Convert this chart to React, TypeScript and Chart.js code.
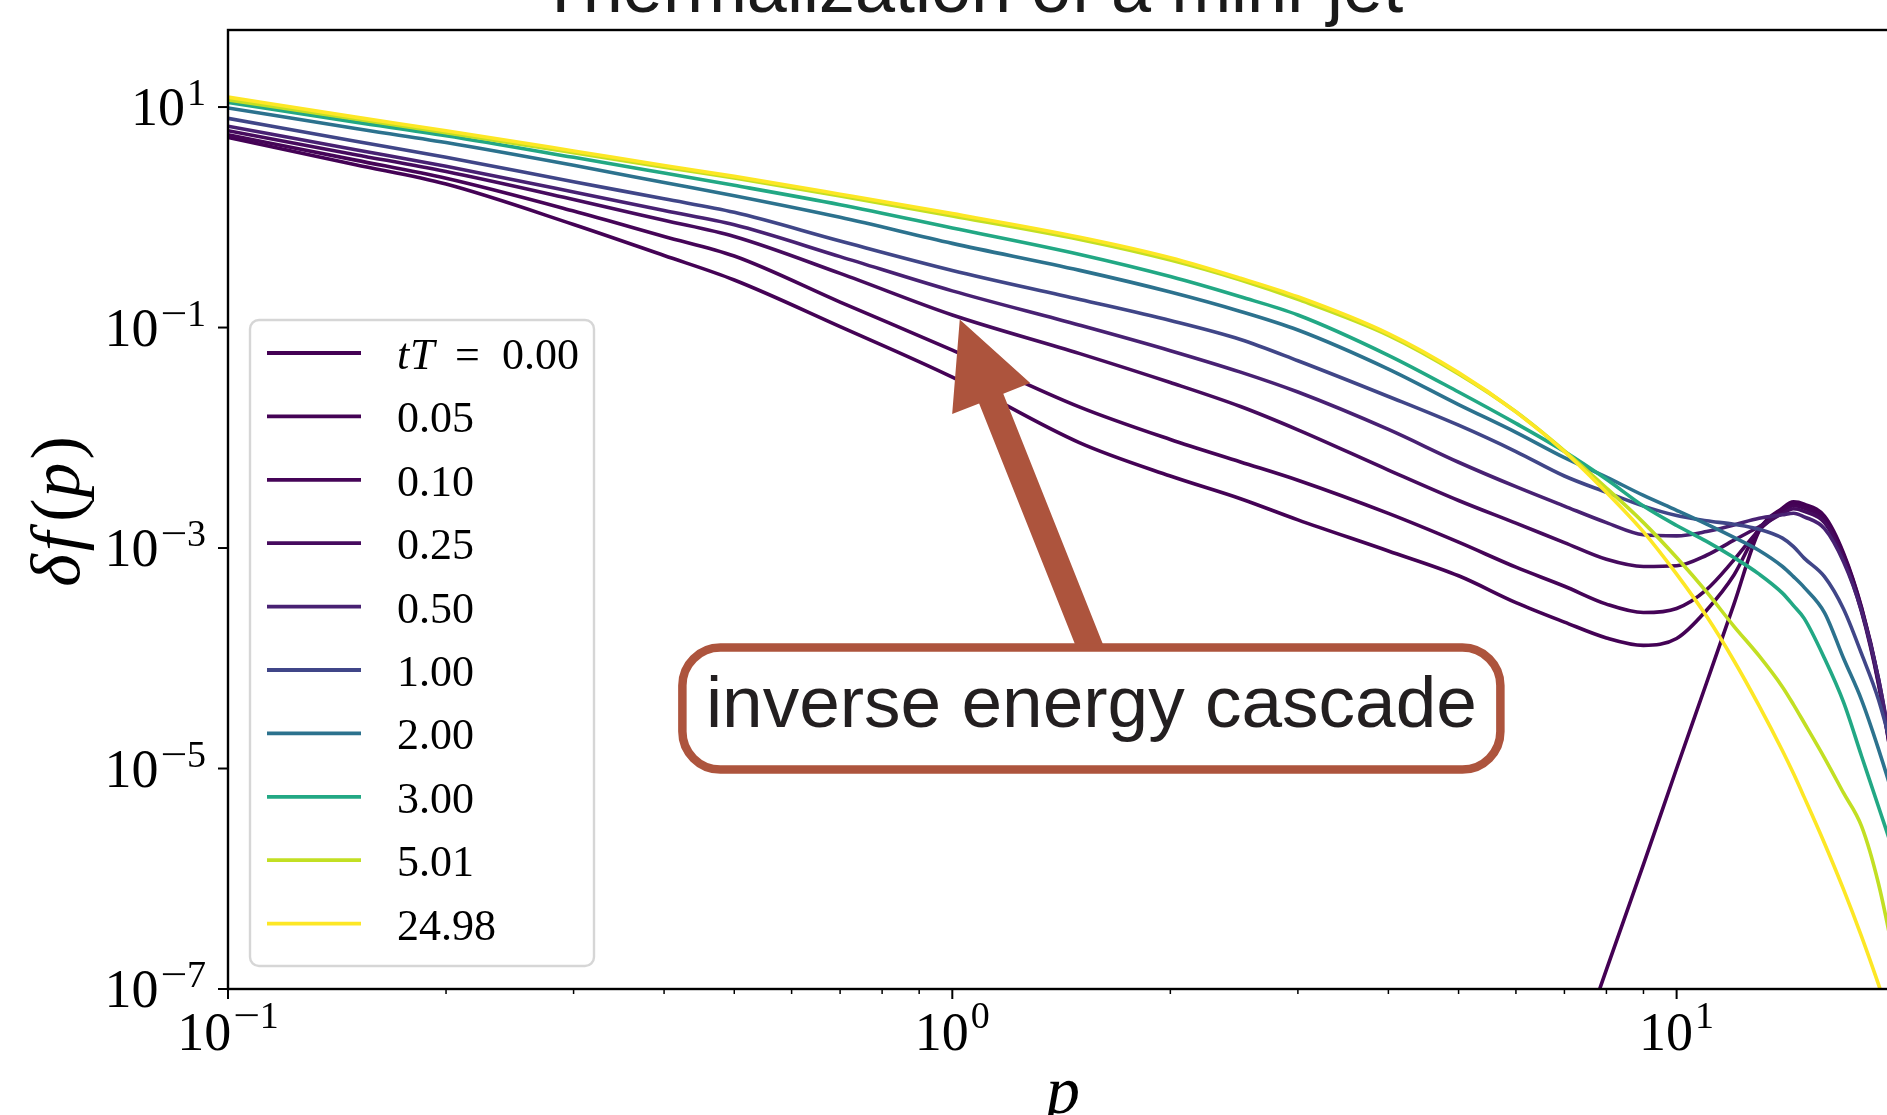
import React, { useEffect, useRef } from 'react';
import { Chart, registerables } from 'chart.js';

Chart.register(...registerables);

// momentum grid shared by every snapshot
const P = [0.1, 0.15, 0.2, 0.3, 0.4, 0.5, 0.7, 1, 1.5, 2, 2.5, 3, 4, 5, 6, 7, 8, 9, 10, 11, 12, 13, 14, 14.5, 15, 16, 17, 18, 19, 20, 21];

// snapshot times tT
const TIME_LABELS = ['0.00', '0.05', '0.10', '0.25', '0.50', '1.00', '2.00', '3.00', '5.01', '24.98'];

// viridis samples, one per snapshot
const LINE_COLORS = ['#440154', '#440255', '#450457', '#460b5e', '#482173', '#404688', '#2c728e', '#22a884', '#c2df23', '#fde725'];

// delta f(p) for each snapshot
const DF_T000 = [null, null, null, null, null, null, null, null, null, null, null, null, null, null, null, 1.2e-8, 1.5e-7, 1.35e-6, 1e-5, 6e-5, 3.1e-4, 1.43e-3, 2.3e-3, 2.62e-3, 2.5e-3, 1.95e-3, 9e-4, 2.9e-4, 6.5e-5, 9e-6, 9e-7];
const DF_T005 = [5.3, 3.0, 2.0, 0.86, 0.45, 0.27, 0.102, 0.0355, 0.009, 0.0045, 0.0028, 0.0018, 9.4e-4, 5.6e-4, 3.2e-4, 2.13e-4, 1.53e-4, 1.31e-4, 1.51e-4, 2.73e-4, 5.7e-4, 1.5e-3, 2.25e-3, 2.52e-3, 2.4e-3, 1.88e-3, 8.7e-4, 2.85e-4, 6.2e-5, 8.5e-6, 8.5e-7];
const DF_T010 = [5.6, 3.3, 2.26, 1.14, 0.67, 0.445, 0.17, 0.0624, 0.019, 0.00966, 0.00604, 0.00412, 0.00206, 1.13e-3, 6.7e-4, 4.5e-4, 3.1e-4, 2.6e-4, 2.83e-4, 4.2e-4, 7.8e-4, 1.46e-3, 2.15e-3, 2.42e-3, 2.3e-3, 1.8e-3, 8.3e-4, 2.75e-4, 6e-5, 8e-6, 8e-7];
const DF_T025 = [6.1, 3.7, 2.6, 1.45, 0.94, 0.67, 0.31, 0.13, 0.058, 0.0317, 0.0192, 0.0118, 5.1e-3, 2.7e-3, 1.68e-3, 1.12e-3, 7.9e-4, 6.8e-4, 6.9e-4, 8.6e-4, 1.18e-3, 1.56e-3, 2.05e-3, 2.27e-3, 2.15e-3, 1.7e-3, 8e-4, 2.65e-4, 5.8e-5, 8e-6, 8e-7];
const DF_T050 = [6.7, 4.1, 2.9, 1.7, 1.15, 0.855, 0.44, 0.215, 0.105, 0.0617, 0.0394, 0.026, 0.0119, 6.0e-3, 3.6e-3, 2.4e-3, 1.7e-3, 1.32e-3, 1.29e-3, 1.41e-3, 1.62e-3, 1.86e-3, 2.0e-3, 2.07e-3, 1.92e-3, 1.5e-3, 7.5e-4, 2.7e-4, 6.5e-5, 1e-5, 1.2e-6];
const DF_T100 = [7.9, 4.9, 3.5, 2.1, 1.47, 1.11, 0.61, 0.33, 0.18, 0.116, 0.078, 0.05, 0.0237, 0.013, 7.5e-3, 4.5e-3, 3.2e-3, 2.4e-3, 1.97e-3, 1.77e-3, 1.64e-3, 1.48e-3, 1.23e-3, 1.03e-3, 8.1e-4, 5.5e-4, 2.8e-4, 1.1e-4, 4.2e-5, 1.2e-5, 3e-6];
const DF_T200 = [9.8, 6.4, 4.76, 2.96, 2.07, 1.57, 1.0, 0.58, 0.33, 0.21, 0.14, 0.095, 0.042, 0.02, 0.0112, 6.6e-3, 4.4e-3, 3.0e-3, 2.2e-3, 1.65e-3, 1.25e-3, 9.5e-4, 6.8e-4, 5.5e-4, 4.4e-4, 2.6e-4, 1.0e-4, 4.2e-5, 1.5e-5, 5e-6, 1.5e-6];
const DF_T300 = [11.0, 7.3, 5.5, 3.5, 2.52, 1.95, 1.3, 0.8, 0.46, 0.29, 0.19, 0.13, 0.056, 0.026, 0.0135, 7.5e-3, 4.2e-3, 2.4e-3, 1.6e-3, 1.15e-3, 8.2e-4, 5.8e-4, 3.9e-4, 3.0e-4, 2.3e-4, 1.0e-4, 4e-5, 1.3e-5, 4.5e-6, 1.6e-6, 5e-7];
const DF_T501 = [11.6, 7.8, 5.85, 3.85, 2.85, 2.27, 1.56, 1.03, 0.63, 0.41, 0.27, 0.18, 0.085, 0.038, 0.0172, 7.6e-3, 3.5e-3, 1.7e-3, 8.2e-4, 4.0e-4, 1.95e-4, 1.05e-4, 5.5e-5, 3.8e-5, 2.6e-5, 1.25e-5, 6e-6, 3e-6, 9e-7, 1.8e-7, 3e-8];
const DF_T2498 = [12.3, 8.1, 6.1, 4.0, 2.95, 2.35, 1.62, 1.08, 0.66, 0.43, 0.28, 0.19, 0.088, 0.039, 0.0172, 7.5e-3, 3.2e-3, 1.4e-3, 5.8e-4, 2.4e-4, 9.5e-5, 3.7e-5, 1.45e-5, 9e-6, 5.5e-6, 2.1e-6, 8e-7, 3e-7, 1.1e-7, 4e-8, 1.5e-8];

const SNAPSHOTS = [DF_T000, DF_T005, DF_T010, DF_T025, DF_T050, DF_T100, DF_T200, DF_T300, DF_T501, DF_T2498];

// axis ticks
const Y_TICKS = [1e1, 1e-1, 1e-3, 1e-5, 1e-7];
const Y_TICK_EXP = ['1', '\u22121', '\u22123', '\u22125', '\u22127'];
const X_TICKS = [0.1, 1, 10];
const X_TICK_EXP = ['\u22121', '0', '1'];
const X_MINOR = [0.2, 0.3, 0.4, 0.5, 0.6, 0.7, 0.8, 0.9, 2, 3, 4, 5, 6, 7, 8, 9, 20];

const TITLE = 'Thermalization of a mini-jet';
const ANNOTATION = 'inverse energy cascade';
// annotation anchors in data coordinates (p, delta f)
const ARROW_TIP = [1.024, 0.118];
const ARROW_BASE = [1.54, 1.4e-4];
const BOX_CENTER = [1.556, 3.5e-5];

const SERIF = "'Liberation Serif', 'Times New Roman', serif";
const SANS = "'Liberation Sans', Arial, sans-serif";
const ACCENT = '#ad543d';

// draws "10" with a raised exponent; a minus sign gets a little extra room
function drawPow(ctx: CanvasRenderingContext2D, exp: string, x: number, base: number, align: 'right' | 'center', raise: number) {
  const neg = exp.startsWith('\u2212');
  const digits = neg ? exp.slice(1) : exp;
  ctx.font = `54px ${SERIF}`;
  const w1 = ctx.measureText('10').width;
  ctx.font = `38px ${SERIF}`;
  const wm = neg ? ctx.measureText('\u2212').width + 5 : 0;
  const w2 = ctx.measureText(digits).width;
  const gap = 2;
  const total = w1 + gap + wm + w2;
  const x0 = align === 'right' ? x - total : x - total / 2;
  ctx.textAlign = 'left';
  ctx.textBaseline = 'alphabetic';
  ctx.fillStyle = '#000';
  ctx.font = `54px ${SERIF}`;
  ctx.fillText('10', x0, base);
  ctx.font = `38px ${SERIF}`;
  if (neg) {
    ctx.save();
    ctx.translate(x0 + w1 + gap, base - raise);
    ctx.scale(1.25, 1);
    ctx.fillText('\u2212', 0, 0);
    ctx.restore();
  }
  ctx.fillText(digits, x0 + w1 + gap + wm, base - raise);
}

function roundRectPath(ctx: CanvasRenderingContext2D, x: number, y: number, w: number, h: number, r: number) {
  ctx.beginPath();
  ctx.moveTo(x + r, y);
  ctx.lineTo(x + w - r, y);
  ctx.arcTo(x + w, y, x + w, y + r, r);
  ctx.lineTo(x + w, y + h - r);
  ctx.arcTo(x + w, y + h, x + w - r, y + h, r);
  ctx.lineTo(x + r, y + h);
  ctx.arcTo(x, y + h, x, y + h - r, r);
  ctx.lineTo(x, y + r);
  ctx.arcTo(x, y, x + r, y, r);
  ctx.closePath();
}

const decorPlugin = {
  id: 'decor',
  afterDraw(chart: any) {
    const ctx: CanvasRenderingContext2D = chart.ctx;
    const ca = chart.chartArea;
    const xs = chart.scales.x;
    const ys = chart.scales.y;
    ctx.save();

    // axes frame
    ctx.strokeStyle = '#000';
    ctx.lineWidth = 2.4;
    ctx.strokeRect(ca.left, ca.top, ca.right - ca.left, ca.bottom - ca.top);

    // y ticks and labels
    ctx.lineWidth = 2;
    Y_TICKS.forEach((v, i) => {
      const y = ys.getPixelForValue(v);
      ctx.beginPath();
      ctx.moveTo(ca.left - 10, y);
      ctx.lineTo(ca.left, y);
      ctx.stroke();
      drawPow(ctx, Y_TICK_EXP[i], ca.left - 22, y + 18, 'right', 20);
    });

    // x ticks and labels
    X_TICKS.forEach((v, i) => {
      const x = xs.getPixelForValue(v);
      ctx.lineWidth = 2;
      ctx.beginPath();
      ctx.moveTo(x, ca.bottom);
      ctx.lineTo(x, ca.bottom + 10);
      ctx.stroke();
      drawPow(ctx, X_TICK_EXP[i], x, ca.bottom + 61, 'center', 22);
    });
    ctx.lineWidth = 1.5;
    X_MINOR.forEach((v) => {
      const x = xs.getPixelForValue(v);
      ctx.beginPath();
      ctx.moveTo(x, ca.bottom);
      ctx.lineTo(x, ca.bottom + 5);
      ctx.stroke();
    });

    // axis labels
    ctx.fillStyle = '#000';
    ctx.textBaseline = 'alphabetic';
    ctx.font = `italic 68px ${SERIF}`;
    ctx.textAlign = 'center';
    ctx.fillText('p', (ca.left + ca.right) / 2 - 6, ca.bottom + 124);

    ctx.save();
    ctx.translate(79, (ca.top + ca.bottom) / 2 + 2);
    ctx.rotate(-Math.PI / 2);
    const parts: [string, boolean, number][] = [['\u03b4', true, 3], ['f', true, 10], ['(', false, 1], ['p', true, 3], [')', false, 0]];
    let tw = 0;
    const widths = parts.map(([s, it, extra]) => {
      ctx.font = `${it ? 'italic ' : ''}70px ${SERIF}`;
      const w = ctx.measureText(s).width + extra;
      tw += w;
      return w;
    });
    let cx = -tw / 2;
    ctx.textAlign = 'left';
    parts.forEach(([s, it], i) => {
      ctx.font = `${it ? 'italic ' : ''}70px ${SERIF}`;
      ctx.fillText(s, cx, 0);
      cx += widths[i];
    });
    ctx.restore();

    // legend
    const lg = { x: ca.left + 22, y: ca.top + 290, w: 344, h: 646 };
    roundRectPath(ctx, lg.x, lg.y, lg.w, lg.h, 9);
    ctx.fillStyle = 'rgba(255,255,255,0.85)';
    ctx.fill();
    ctx.strokeStyle = '#d6d6d6';
    ctx.lineWidth = 2.4;
    ctx.stroke();
    TIME_LABELS.forEach((lab, i) => {
      const y = lg.y + 33 + i * 63.4;
      ctx.strokeStyle = LINE_COLORS[i];
      ctx.lineWidth = 3.8;
      ctx.beginPath();
      ctx.moveTo(lg.x + 17, y);
      ctx.lineTo(lg.x + 111, y);
      ctx.stroke();
      ctx.fillStyle = '#000';
      ctx.textAlign = 'left';
      const tx = lg.x + 147;
      if (i === 0) {
        ctx.font = `italic 44px ${SERIF}`;
        ctx.fillText('t', tx, y + 16);
        ctx.fillText('T', tx + 13, y + 16);
        ctx.font = `44px ${SERIF}`;
        ctx.fillText('=', tx + 58, y + 16);
        ctx.fillText(lab, tx + 105, y + 16);
      } else {
        ctx.font = `44px ${SERIF}`;
        ctx.fillText(lab, tx, y + 16);
      }
    });

    // annotation arrow
    const tipX = xs.getPixelForValue(ARROW_TIP[0]);
    const tipY = ys.getPixelForValue(ARROW_TIP[1]);
    const baseX = xs.getPixelForValue(ARROW_BASE[0]);
    const baseY = ys.getPixelForValue(ARROW_BASE[1]);
    const dx = tipX - baseX, dy = tipY - baseY;
    const len = Math.hypot(dx, dy);
    const ux = dx / len, uy = dy / len;
    const nx = -uy, ny = ux;
    const headLen = 85, headHalf = 42, shaftHalf = 13;
    const hbx = tipX - ux * headLen, hby = tipY - uy * headLen;
    const sbx = baseX - ux * 12, sby = baseY - uy * 12;
    ctx.fillStyle = ACCENT;
    ctx.beginPath();
    ctx.moveTo(tipX, tipY);
    ctx.lineTo(hbx + nx * headHalf, hby + ny * headHalf);
    ctx.lineTo(hbx + nx * shaftHalf, hby + ny * shaftHalf);
    ctx.lineTo(sbx + nx * shaftHalf, sby + ny * shaftHalf);
    ctx.lineTo(sbx - nx * shaftHalf, sby - ny * shaftHalf);
    ctx.lineTo(hbx - nx * shaftHalf, hby - ny * shaftHalf);
    ctx.lineTo(hbx - nx * headHalf, hby - ny * headHalf);
    ctx.closePath();
    ctx.fill();

    // annotation box and text
    const bcx = xs.getPixelForValue(BOX_CENTER[0]);
    const bcy = ys.getPixelForValue(BOX_CENTER[1]);
    const bw = 818, bh = 122;
    roundRectPath(ctx, bcx - bw / 2, bcy - bh / 2, bw, bh, 38);
    ctx.fillStyle = '#fff';
    ctx.fill();
    ctx.strokeStyle = ACCENT;
    ctx.lineWidth = 8.5;
    ctx.stroke();
    ctx.fillStyle = '#231f20';
    ctx.font = `73px ${SANS}`;
    ctx.textAlign = 'center';
    ctx.fillText(ANNOTATION, bcx, bcy + 18);

    // title
    ctx.fillStyle = '#1a1a1a';
    ctx.font = `72px ${SANS}`;
    ctx.textAlign = 'center';
    ctx.fillText(TITLE, chart.width / 2, 12);

    ctx.restore();
  },
};

export default function App() {
  const ref = useRef<HTMLCanvasElement>(null);

  useEffect(() => {
    const canvas = ref.current;
    if (!canvas) return;
    const datasets = SNAPSHOTS.map((vals, i) => ({
      label: TIME_LABELS[i],
      data: P.map((p, j) => ({ x: p, y: vals[j] })),
      borderColor: LINE_COLORS[i],
      backgroundColor: LINE_COLORS[i],
      borderWidth: 3.6,
      pointRadius: 0,
      fill: false,
      spanGaps: false,
      cubicInterpolationMode: 'monotone' as const,
      borderJoinStyle: 'round' as const,
      clip: 0,
      order: SNAPSHOTS.length - 1 - i,
    }));
    const chart = new Chart(canvas, {
      type: 'line',
      data: { datasets },
      options: {
        responsive: false,
        animation: false,
        devicePixelRatio: 1,
        events: [],
        layout: { padding: { left: 228, top: 30, right: 32, bottom: 126 } },
        scales: {
          x: { type: 'logarithmic', min: 0.1, max: 21, display: false },
          y: { type: 'logarithmic', min: 1e-7, max: 50, display: false },
        },
        plugins: {
          legend: { display: false },
          tooltip: { enabled: false },
          title: { display: false },
        },
      },
      plugins: [decorPlugin],
    } as any);
    return () => chart.destroy();
  }, []);

  return (
    <div style={{ position: 'fixed', left: 0, top: 0, width: 1887, height: 1115, overflow: 'hidden', background: '#fff' }}>
      <canvas ref={ref} width={1942} height={1115} style={{ display: 'block', width: 1942, height: 1115 }} />
    </div>
  );
}
